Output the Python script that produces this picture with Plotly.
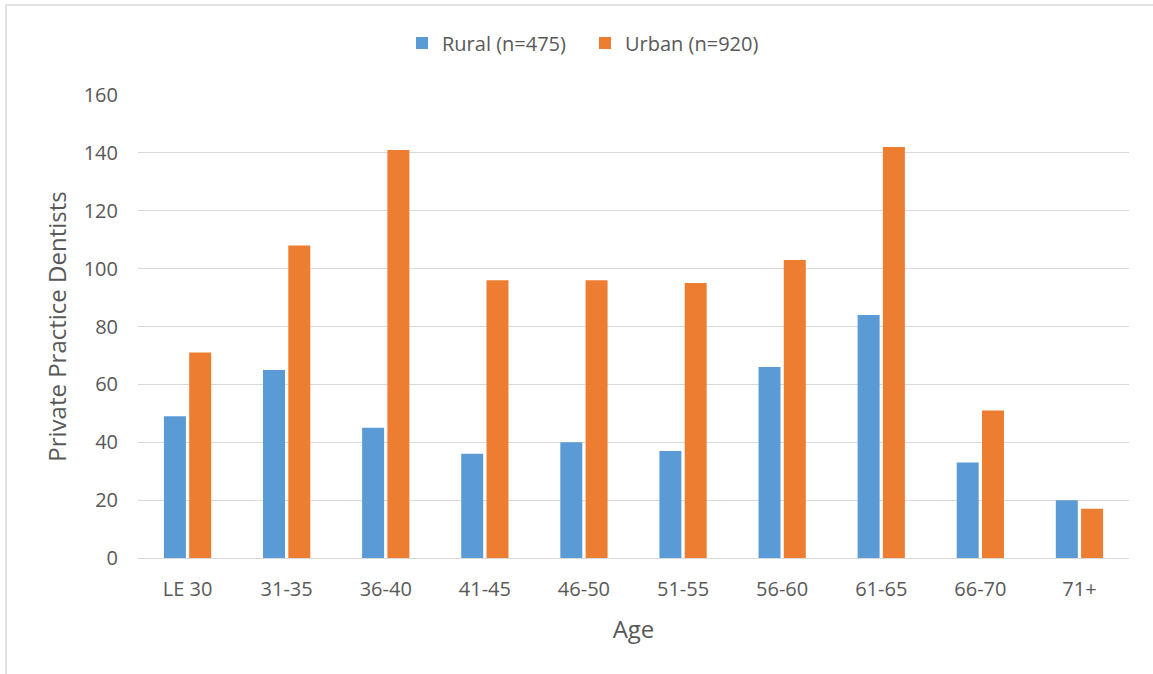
import plotly.graph_objects as go

categories = ["LE 30", "31-35", "36-40", "41-45", "46-50", "51-55", "56-60", "61-65", "66-70", "71+"]
rural = [49, 65, 45, 36, 40, 37, 66, 84, 33, 20]
urban = [71, 108, 141, 96, 96, 95, 103, 142, 51, 17]
series_names = ["Rural (n=475)", "Urban (n=920)"]
y_ticks = [0, 20, 40, 60, 80, 100, 120, 140, 160]

font_family = "Open Sans, Liberation Sans, sans-serif"
text_color = "#595959"

W, H = 1153, 674
ML, MR, MT, MB = 138, 24, 95, 116
PW, PH = W - ML - MR, H - MT - MB

fig = go.Figure()
fig.add_trace(go.Bar(x=categories, y=rural, name=series_names[0], marker=dict(color="#5B9BD5", line=dict(width=0))))
fig.add_trace(go.Bar(x=categories, y=urban, name=series_names[1], marker=dict(color="#ED7D31", line=dict(width=0))))

fig.update_layout(
    width=W, height=H,
    margin=dict(l=ML, r=MR, t=MT, b=MB, autoexpand=False),
    paper_bgcolor="white", plot_bgcolor="white",
    barmode="group", bargap=0.49, bargroupgap=0.13,
    font=dict(family=font_family, color=text_color, size=20),
    legend=dict(orientation="h", x=(402 - ML) / PW, xanchor="left", y=(H - MB - 43) / PH, yanchor="middle",
                font=dict(size=20, color=text_color), traceorder="normal",
                entrywidth=138, entrywidthmode="pixels"),
    xaxis=dict(title=dict(text="Age", font=dict(size=24, color=text_color), standoff=20),
               showgrid=False, showline=False, ticks="", tickfont=dict(size=20, color=text_color),
               ticklabelstandoff=17),
    yaxis=dict(title=dict(text="Private Practice Dentists", font=dict(size=24, color=text_color), standoff=10),
               range=[0, 160], tickvals=y_ticks, showgrid=True, gridcolor="#D9D9D9", gridwidth=1,
               zeroline=True, zerolinecolor="#D9D9D9", zerolinewidth=1, showline=False, ticks="",
               tickfont=dict(size=20, color=text_color), ticklabelstandoff=19),
    shapes=[dict(type="rect", xref="paper", yref="paper",
                 x0=(6 - ML) / PW, x1=(W + 10 - ML) / PW,
                 y0=(H - MB - H - 30) / PH, y1=(H - MB - 5) / PH,
                 line=dict(color="#D9D9D9", width=1.5), fillcolor="rgba(0,0,0,0)", layer="below")],
)

fig.write_html("out.html", config={"displayModeBar": False},
               post_script="document.body.style.margin='0';document.body.style.overflow='hidden';")
